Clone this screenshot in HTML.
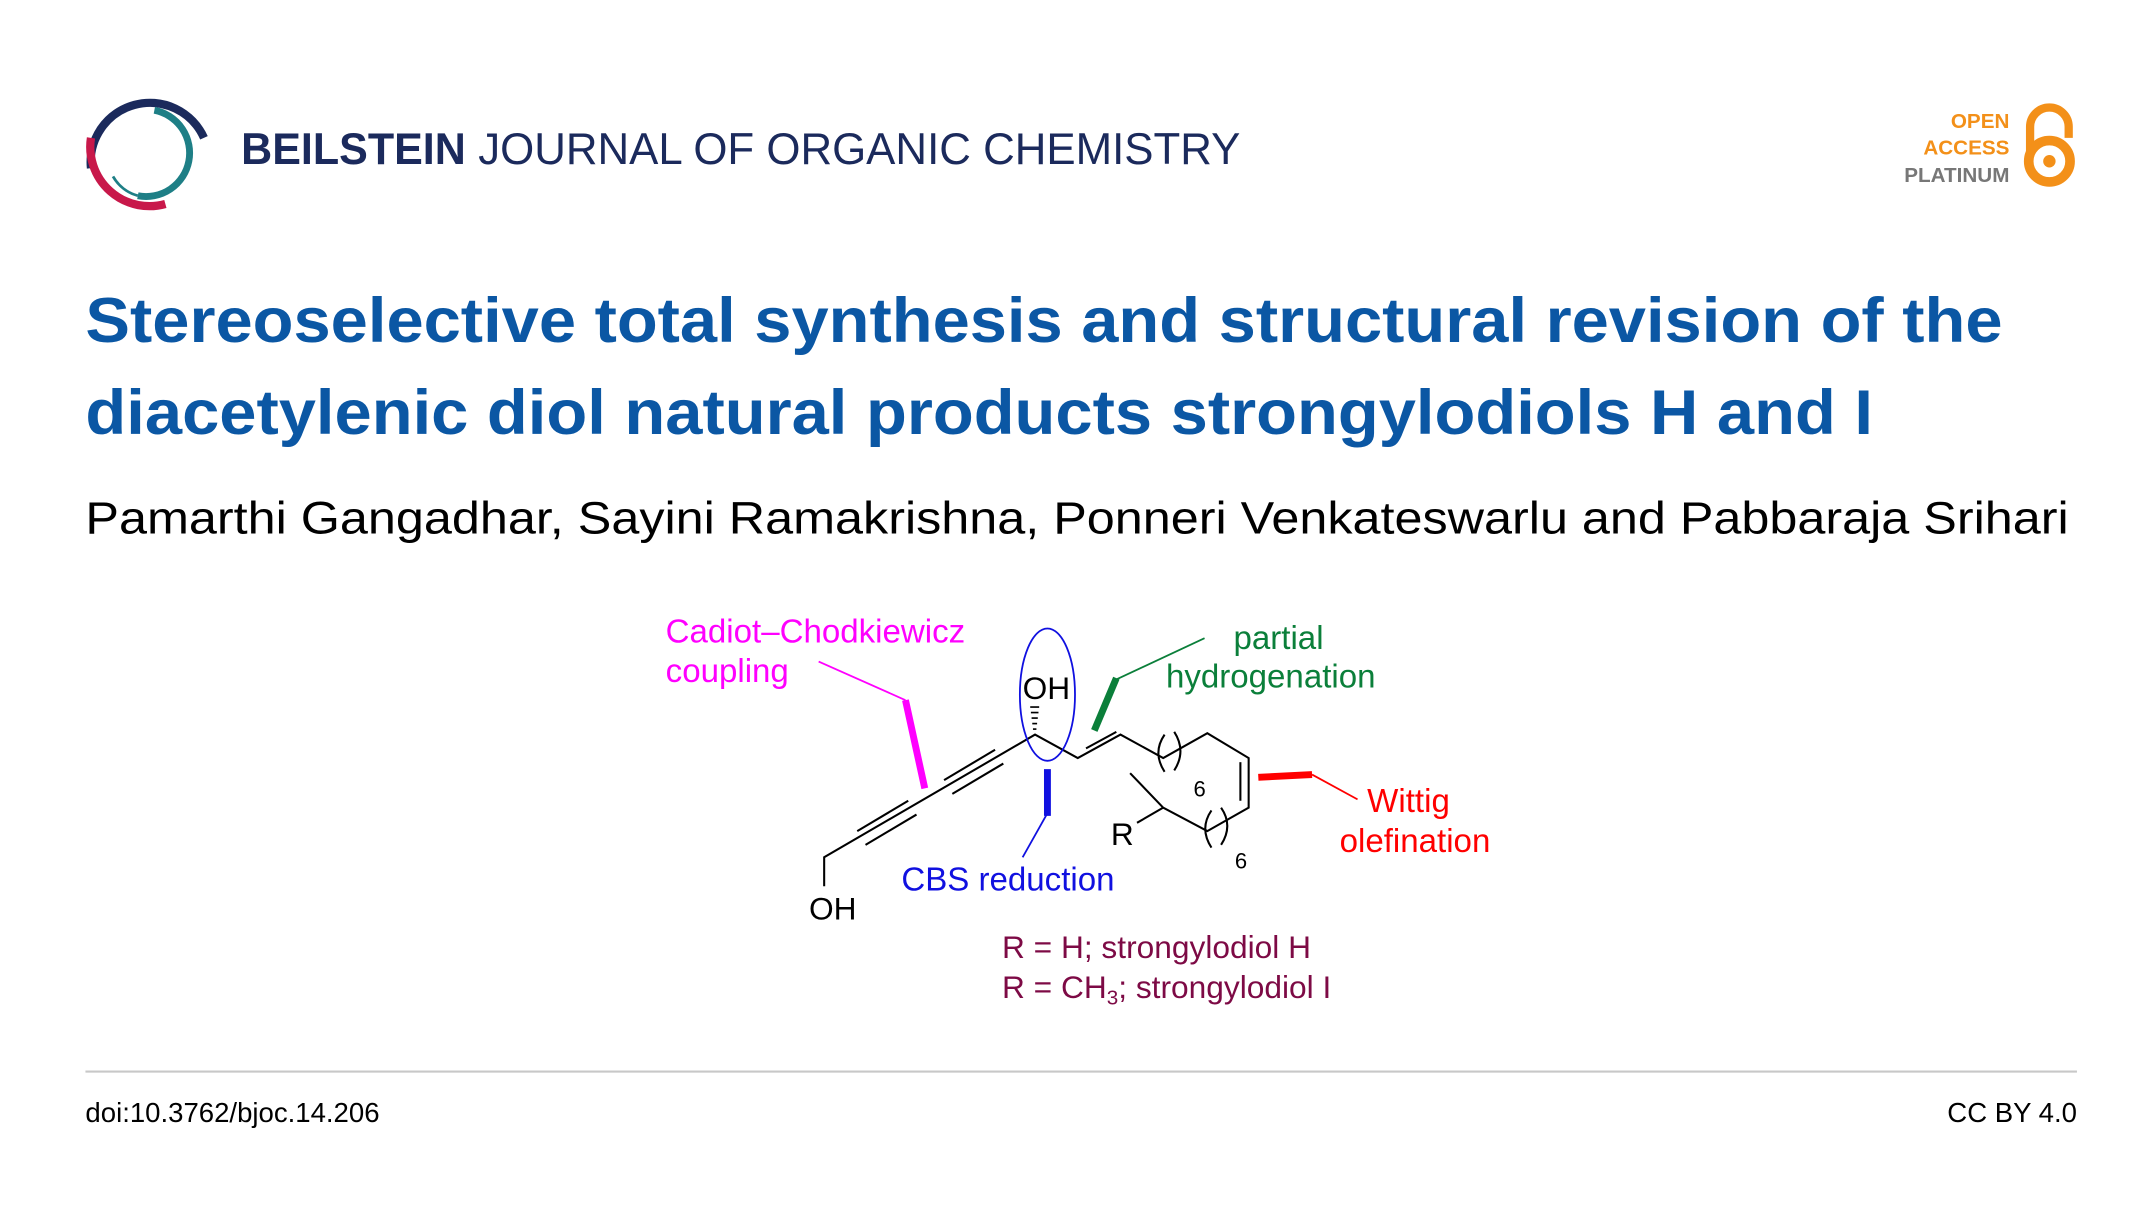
<!DOCTYPE html>
<html><head><meta charset="utf-8"><style>
html,body{margin:0;padding:0;background:#fff;}
svg{display:block;}
text{font-family:"Liberation Sans",Arial,sans-serif;}
</style></head><body>
<svg width="2150" height="1217" viewBox="0 0 1560 883" preserveAspectRatio="none" xmlns="http://www.w3.org/2000/svg">
<rect width="1560" height="883" fill="#fff"/>
<!-- logo -->
<path d="M66,122 A43,43 0 0 1 148,100" fill="none" stroke="#1b2a5c" stroke-width="6"/>
<path d="M66,100 A43,43 0 0 0 120,148" fill="none" stroke="#c8184a" stroke-width="6"/>
<path d="M112,80 A30,30 0 0 1 100,142" fill="none" stroke="#1e7f86" stroke-width="5"/>
<path d="M82,128 A30,30 0 0 0 100,142" fill="none" stroke="#1e7f86" stroke-width="2"/>
<text x="175" y="119" font-size="32" font-weight="bold" fill="#1b2a5c" textLength="163" lengthAdjust="spacingAndGlyphs">BEILSTEIN</text>
<text x="347" y="119" font-size="32" fill="#1b2a5c" textLength="553" lengthAdjust="spacingAndGlyphs">JOURNAL OF ORGANIC CHEMISTRY</text>
<!-- open access -->
<text x="1458" y="93" font-size="15" font-weight="bold" fill="#f39019" text-anchor="end">OPEN</text>
<text x="1458" y="112" font-size="15" font-weight="bold" fill="#f39019" text-anchor="end">ACCESS</text>
<text x="1458" y="132" font-size="15" font-weight="bold" fill="#777" text-anchor="end">PLATINUM</text>
<path d="M1473,110 L1473,92 A14,14 0 0 1 1501,92 L1501,100" fill="none" stroke="#f39019" stroke-width="6"/>
<circle cx="1487" cy="117" r="15" fill="none" stroke="#f39019" stroke-width="7"/>
<circle cx="1487" cy="117" r="4.5" fill="#f39019"/>
<!-- title -->
<text x="62" y="248" font-size="46" font-weight="bold" fill="#0b57a4" textLength="1391" lengthAdjust="spacingAndGlyphs">Stereoselective total synthesis and structural revision of the</text>
<text x="62" y="315" font-size="46" font-weight="bold" fill="#0b57a4" textLength="1297" lengthAdjust="spacingAndGlyphs">diacetylenic diol natural products strongylodiols H and I</text>
<text x="62" y="387" font-size="33" fill="#000" textLength="1439" lengthAdjust="spacingAndGlyphs">Pamarthi Gangadhar, Sayini Ramakrishna, Ponneri Venkateswarlu and Pabbaraja Srihari</text>
<!-- diagram -->
<g fill="none" stroke="#000" stroke-width="1.5">
<polyline points="598,643 598,622 751,533 782,550 813,533 844,550 876,532 906,550 906,586 876,603 844,586 820,561"/>
<line x1="844" y1="586" x2="825" y2="597"/>
<!-- triple bonds -->
<line x1="622" y1="603" x2="659" y2="581"/>
<line x1="628" y1="613" x2="665" y2="591"/>
<line x1="685" y1="566" x2="722" y2="544"/>
<line x1="691" y1="576" x2="728" y2="554"/>
<!-- double bonds -->
<line x1="788" y1="543" x2="810" y2="531"/>
<line x1="900" y1="553" x2="900" y2="581"/>
<!-- parentheses -->
<path d="M845,533 Q836,546 845,560"/>
<path d="M852,531 Q861,545 852,559"/>
<path d="M879,588 Q870,601 879,615"/>
<path d="M886,586 Q895,599 886,613"/>
</g>
<!-- hashed -->
<g stroke="#000" stroke-width="1.2">
<line x1="749.5" y1="529" x2="752" y2="529"/><line x1="749" y1="525" x2="752.5" y2="525"/><line x1="748.5" y1="521" x2="753" y2="521"/><line x1="748" y1="517" x2="753.5" y2="517"/><line x1="747.5" y1="513" x2="754" y2="513"/>
</g>
<text x="866" y="578" font-size="16" fill="#000">6</text>
<text x="896" y="630" font-size="16" fill="#000">6</text>
<text x="806" y="613" font-size="23" fill="#000">R</text>
<text x="587" y="667" font-size="23" fill="#000">OH</text>
<text x="742" y="507" font-size="23" fill="#000">OH</text>
<ellipse cx="760" cy="504" rx="20" ry="48" fill="none" stroke="#1010e0" stroke-width="1.3"/>
<!-- magenta -->
<polyline points="594,480 657,508" fill="none" stroke="#ff00ff" stroke-width="1.3"/>
<line x1="657" y1="508" x2="671" y2="572" stroke="#ff00ff" stroke-width="5"/>
<text x="483" y="466" font-size="24" fill="#ff00ff">Cadiot–Chodkiewicz</text>
<text x="483" y="495" font-size="24" fill="#ff00ff">coupling</text>
<!-- blue -->
<line x1="760" y1="558" x2="760" y2="592" stroke="#1010e0" stroke-width="5"/>
<line x1="760" y1="590" x2="742" y2="622" stroke="#1010e0" stroke-width="1.3"/>
<text x="654" y="646" font-size="24" fill="#1010e0">CBS reduction</text>
<!-- green -->
<line x1="794" y1="530" x2="810" y2="492" stroke="#0b7f3a" stroke-width="5"/>
<line x1="810" y1="493" x2="874" y2="463" stroke="#0b7f3a" stroke-width="1.3"/>
<text x="895" y="471" font-size="24" fill="#0b7f3a">partial</text>
<text x="846" y="499" font-size="24" fill="#0b7f3a">hydrogenation</text>
<!-- red -->
<line x1="913" y1="564" x2="952" y2="562" stroke="#ff0000" stroke-width="5"/>
<line x1="952" y1="562" x2="985" y2="580" stroke="#ff0000" stroke-width="1.3"/>
<text x="992" y="589" font-size="24" fill="#ff0000">Wittig</text>
<text x="972" y="618" font-size="24" fill="#ff0000">olefination</text>
<!-- purple -->
<text x="727" y="695" font-size="23" fill="#7d0a45">R = H; strongylodiol H</text>
<text x="727" y="724" font-size="23" fill="#7d0a45">R = CH<tspan font-size="15" dy="5">3</tspan><tspan dy="-5">; strongylodiol I</tspan></text>
<!-- footer -->
<line x1="62" y1="777.5" x2="1507" y2="777.5" stroke="#c8c8c8" stroke-width="1.5"/>
<text x="62" y="814" font-size="20" fill="#000">doi:10.3762/bjoc.14.206</text>
<text x="1507" y="814" font-size="20" fill="#000" text-anchor="end">CC BY 4.0</text>
</svg>
</body></html>
